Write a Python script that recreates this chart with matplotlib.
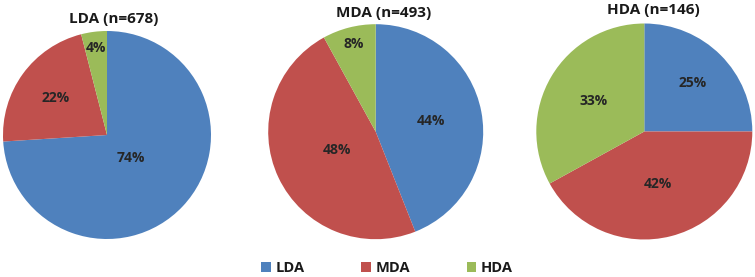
import numpy as np
import matplotlib
matplotlib.use("Agg")
import matplotlib.pyplot as plt
from matplotlib.patches import Patch

# Daten
categories = ["LDA", "MDA", "HDA"]
titles = ["LDA (n=678)", "MDA (n=493)", "HDA (n=146)"]
lda_share = [74, 22, 4]
mda_share = [44, 48, 8]
hda_share = [25, 42, 33]
colors = ["#4F81BD", "#C0504D", "#9BBB59"]

plt.rcParams["font.family"] = ["Open Sans", "DejaVu Sans"]
plt.rcParams["font.weight"] = "bold"

W, H = 755, 277
fig = plt.figure(figsize=(W / 100, H / 100), dpi=100)

# Pie-Positionen in Pixel: (cx, cy, r), Titel (x, y), Labelabstaende
layout = [
    ((107, 135, 104), (114, 19), [0.32, 0.61, 0.84]),
    ((375.7, 131.7, 107.5), (384, 13), [0.52, 0.40, 0.84]),
    ((644.3, 131.5, 108), (653, 10), [0.63, 0.50, 0.55]),
]

for share, title, ((cx, cy, r), (tx, ty), dists) in zip(
        [lda_share, mda_share, hda_share], titles, layout):
    ax = fig.add_axes([(cx - r) / W, (H - cy - r) / H, 2 * r / W, 2 * r / H])
    wedges, _ = ax.pie(share, colors=colors, startangle=90, counterclock=False,
                       radius=1, wedgeprops=dict(linewidth=0))
    ax.set_xlim(-1, 1)
    ax.set_ylim(-1, 1)
    ax.set_aspect("auto")
    ax.axis("off")
    for w, val, d in zip(wedges, share, dists):
        mid = np.deg2rad((w.theta1 + w.theta2) / 2)
        ax.text(d * np.cos(mid), d * np.sin(mid), f"{val}%", ha="center", va="center",
                fontsize=10, fontweight="bold", color="#262626")
    fig.text(tx / W, 1 - ty / H, title, ha="center", va="center",
             fontsize=11, fontweight="bold", color="#1a1a1a")

handles = [Patch(facecolor=c, edgecolor="none") for c in colors]
fig.legend(handles, categories, loc="center", bbox_to_anchor=(387 / W, 1 - 268 / H),
           ncol=3, frameon=False, fontsize=10.5, handlelength=0.65, handleheight=0.65,
           handletextpad=0.3, columnspacing=3.9, labelcolor="#1a1a1a")

fig.savefig("out.png", dpi=100)
